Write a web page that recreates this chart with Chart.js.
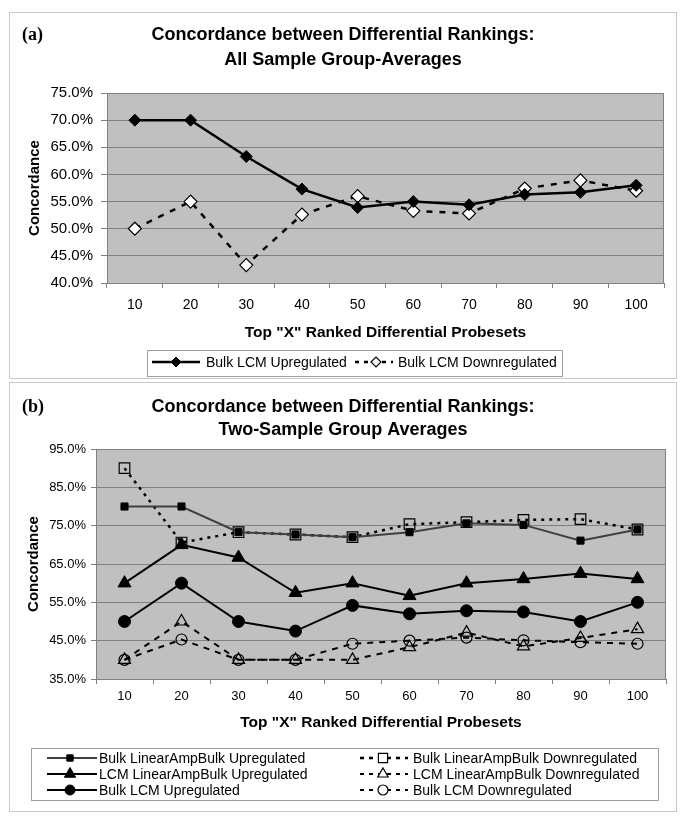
<!DOCTYPE html>
<html>
<head>
<meta charset="utf-8">
<script src="https://cdn.jsdelivr.net/npm/chart.js@4.4.1/dist/chart.umd.min.js"></script>
<style>
  body { margin: 0; background: #fff; }
  .panel { position: absolute; left: 9px; width: 668px; border: 1px solid #c8c8c8; box-sizing: border-box; }
  #panelA { top: 12px; height: 367px; }
  #panelB { top: 382px; height: 430px; }
  canvas { display: block; }
</style>
</head>
<body>
<div class="panel" id="panelA"><canvas id="chartA" width="666" height="365"></canvas></div>
<div class="panel" id="panelB"><canvas id="chartB" width="666" height="428"></canvas></div>
<script>
const categories = ["10", "20", "30", "40", "50", "60", "70", "80", "90", "100"];

// (a) all sample group-averages, concordance in %
const allBulkLcmUp = [70.0, 70.0, 63.3, 57.3, 53.9, 55.0, 54.4, 56.3, 56.7, 58.0];
const allBulkLcmDown = [50.0, 55.0, 43.3, 52.6, 56.0, 53.3, 52.8, 57.4, 58.9, 57.0];

// (b) two-sample group averages, concordance in %
const bulkLinAmpUp = [80.0, 80.0, 73.3, 72.7, 72.0, 73.3, 75.6, 75.2, 71.1, 74.0];
const bulkLinAmpDown = [90.0, 70.6, 73.3, 72.7, 72.0, 75.4, 75.9, 76.5, 76.7, 74.0];
const lcmLinAmpUp = [60.0, 70.0, 66.7, 57.5, 60.0, 56.7, 60.0, 61.1, 62.5, 61.1];
const lcmLinAmpDown = [40.0, 50.0, 40.0, 40.0, 40.0, 43.3, 47.1, 43.5, 45.7, 48.0];
const bulkLcmUp = [50.0, 60.0, 50.0, 47.5, 54.2, 52.0, 52.8, 52.5, 50.0, 55.0];
const bulkLcmDown = [40.0, 45.3, 40.0, 40.0, 44.2, 45.0, 45.8, 45.1, 44.6, 44.2];

const sans = '"Liberation Sans", Arial, sans-serif';
const serif = '"Liberation Serif", "Times New Roman", serif';

function drawMarker(ctx, style, x, y, r) {
  ctx.beginPath();
  if (style === "rectRot") {
    ctx.moveTo(x - r, y);
    ctx.lineTo(x, y - r);
    ctx.lineTo(x + r, y);
    ctx.lineTo(x, y + r);
  } else if (style === "rect") {
    const s = r * Math.SQRT1_2;
    ctx.rect(x - s, y - s, 2 * s, 2 * s);
  } else if (style === "triangle") {
    ctx.moveTo(x, y - r);
    ctx.lineTo(x + r * 0.866, y + r / 2);
    ctx.lineTo(x - r * 0.866, y + r / 2);
  } else {
    ctx.arc(x, y, r, 0, Math.PI * 2);
  }
  ctx.closePath();
  ctx.fill();
  ctx.stroke();
}

const plotFrame = {
  id: "plotFrame",
  beforeDraw(chart) {
    const { ctx, chartArea: a } = chart;
    ctx.save();
    ctx.fillStyle = "#c0c0c0";
    ctx.fillRect(a.left, a.top, a.right - a.left, a.bottom - a.top);
    ctx.restore();
  },
  beforeDatasetsDraw(chart) {
    const { ctx, chartArea: a } = chart;
    ctx.save();
    ctx.strokeStyle = "#808080";
    ctx.lineWidth = 1;
    ctx.strokeRect(Math.round(a.left) + 0.5, Math.round(a.top) + 0.5, Math.round(a.right - a.left) - 1, Math.round(a.bottom - a.top));
    ctx.restore();
  }
};

function panelText(cfg) {
  return {
    id: "panelText",
    afterDraw(chart) {
      const ctx = chart.ctx;
      ctx.save();
      ctx.fillStyle = "#000";
      ctx.textBaseline = "middle";
      ctx.textAlign = "left";
      ctx.font = "bold 18px " + serif;
      ctx.fillText(cfg.letter, 12, cfg.titleY[0]);
      ctx.font = "bold 18px " + sans;
      ctx.textAlign = "center";
      cfg.title.forEach((t, i) => ctx.fillText(t, cfg.titleX, cfg.titleY[i]));

      const b = cfg.box;
      ctx.strokeStyle = "#a0a0a0";
      ctx.lineWidth = 1;
      ctx.strokeRect(b.x + 0.5, b.y + 0.5, b.w, b.h);

      ctx.font = "14px " + sans;
      ctx.textAlign = "left";
      chart.data.datasets.forEach(ds => {
        const col = cfg.cols[ds.legendCol];
        const y = cfg.rows[ds.legendRow];
        ctx.strokeStyle = ds.borderColor;
        ctx.lineWidth = ds.borderWidth;
        ctx.setLineDash(ds.borderDash ? [4, 5] : []);
        ctx.beginPath();
        ctx.moveTo(col.x0, y);
        ctx.lineTo(col.x1, y);
        ctx.stroke();
        ctx.setLineDash([]);
        ctx.fillStyle = ds.legendFill;
        ctx.strokeStyle = "#000";
        ctx.lineWidth = ds.pointBorderWidth;
        drawMarker(ctx, ds.pointStyle, col.m, y, ds.legendRadius);
        ctx.fillStyle = "#000";
        ctx.fillText(ds.label, col.tx, y + 1);
      });
      ctx.restore();
    }
  };
}

function series(label, data, o) {
  return Object.assign({
    label: label,
    data: data,
    borderColor: "#000",
    borderWidth: 2,
    pointBorderColor: "#000",
    pointBorderWidth: 1,
    tension: 0,
    fill: false
  }, o);
}

function makeChart(id, datasets, cfg) {
  return new Chart(document.getElementById(id), {
    type: "line",
    data: { labels: categories, datasets: datasets },
    options: {
      responsive: false,
      animation: false,
      events: [],
      layout: { padding: { left: 0, right: cfg.padRight, top: cfg.padTop, bottom: cfg.padBottom } },
      plugins: { legend: { display: false }, tooltip: { enabled: false } },
      scales: {
        x: {
          offset: true,
          grid: { offset: true, drawOnChartArea: false, tickLength: 5, color: "#808080" },
          border: { color: "#808080" },
          ticks: { color: "#000", font: { size: cfg.xTickSize, family: sans }, padding: cfg.xTickPad, maxRotation: 0, autoSkip: false },
          title: {
            display: true,
            text: 'Top "X" Ranked Differential Probesets',
            color: "#000",
            font: { size: 15.5, weight: "bold", family: sans },
            padding: { top: 0, bottom: cfg.xTitlePad }
          },
          afterFit: s => { s.height = cfg.xHeight; }
        },
        y: {
          min: cfg.yMin,
          max: cfg.yMax,
          grid: { color: "#808080", tickLength: cfg.yTickLen },
          border: { color: "#808080" },
          ticks: {
            stepSize: cfg.yStep,
            color: "#000",
            font: { size: cfg.yTickSize, family: sans },
            padding: cfg.yTickPad,
            callback: v => v.toFixed(1) + "%"
          },
          title: {
            display: true,
            text: "Concordance",
            color: "#000",
            font: { size: 15, weight: "bold", family: sans },
            padding: { top: cfg.yTitlePad, bottom: 0 }
          },
          afterFit: s => { s.width = cfg.yWidth; }
        }
      }
    },
    plugins: [plotFrame, panelText(cfg.text)]
  });
}

makeChart("chartA", [
  series("Bulk LCM Upregulated", allBulkLcmUp, {
    borderWidth: 2.5, pointStyle: "rectRot", pointRadius: 6, pointBackgroundColor: "#000",
    legendCol: 0, legendRow: 0, legendRadius: 5, legendFill: "#000"
  }),
  series("Bulk LCM Downregulated", allBulkLcmDown, {
    borderWidth: 2.5, borderDash: [6, 7], pointStyle: "rectRot", pointRadius: 6.5, pointBackgroundColor: "#fff",
    pointBorderWidth: 1.2, legendCol: 1, legendRow: 0, legendRadius: 5, legendFill: "#fff"
  })
], {
  padRight: 12, padTop: 80, padBottom: 33,
  xHeight: 62, xTickSize: 14, xTickPad: 9, xTitlePad: 3,
  yWidth: 97, yTickLen: 6, yTickPad: 8, yTickSize: 15, yTitlePad: 16,
  yMin: 40, yMax: 75, yStep: 5,
  text: {
    letter: "(a)",
    title: ["Concordance between Differential Rankings:", "All Sample Group-Averages"],
    titleX: 333, titleY: [22, 47],
    box: { x: 137, y: 337, w: 415, h: 26 },
    rows: [349],
    cols: [{ x0: 142, x1: 190, m: 166, tx: 196 }, { x0: 345, x1: 383, m: 366, tx: 388 }]
  }
});

makeChart("chartB", [
  series("Bulk LinearAmpBulk Upregulated", bulkLinAmpUp, {
    borderColor: "#404040", pointStyle: "rect", pointRadius: 5, pointBackgroundColor: "#000",
    legendCol: 0, legendRow: 0, legendRadius: 4.5, legendFill: "#000"
  }),
  series("Bulk LinearAmpBulk Downregulated", bulkLinAmpDown, {
    borderWidth: 2.5, borderDash: [3, 5], pointStyle: "rect", pointRadius: 7.5, pointBackgroundColor: "rgba(0,0,0,0)",
    pointBorderWidth: 1.2, legendCol: 1, legendRow: 0, legendRadius: 6.5, legendFill: "#fff"
  }),
  series("LCM LinearAmpBulk Upregulated", lcmLinAmpUp, {
    pointStyle: "triangle", pointRadius: 7.5, pointBackgroundColor: "#000",
    legendCol: 0, legendRow: 1, legendRadius: 6.5, legendFill: "#000"
  }),
  series("LCM LinearAmpBulk Downregulated", lcmLinAmpDown, {
    borderDash: [6, 6], pointStyle: "triangle", pointRadius: 7, pointBackgroundColor: "rgba(0,0,0,0)",
    pointBorderWidth: 1.2, legendCol: 1, legendRow: 1, legendRadius: 6, legendFill: "#fff"
  }),
  series("Bulk LCM Upregulated", bulkLcmUp, {
    pointStyle: "circle", pointRadius: 6, pointBackgroundColor: "#000",
    legendCol: 0, legendRow: 2, legendRadius: 5, legendFill: "#000"
  }),
  series("Bulk LCM Downregulated", bulkLcmDown, {
    borderDash: [6, 6], pointStyle: "circle", pointRadius: 5.5, pointBackgroundColor: "rgba(0,0,0,0)",
    pointBorderWidth: 1.2, legendCol: 1, legendRow: 2, legendRadius: 5, legendFill: "#fff"
  })
], {
  padRight: 10, padTop: 66, padBottom: 78,
  xHeight: 54, xTickSize: 13, xTickPad: 5, xTitlePad: 1,
  yWidth: 86, yTickLen: 5, yTickPad: 5, yTickSize: 13, yTitlePad: 15,
  yMin: 35, yMax: 95, yStep: 10,
  text: {
    letter: "(b)",
    title: ["Concordance between Differential Rankings:", "Two-Sample Group Averages"],
    titleX: 333, titleY: [24, 47],
    box: { x: 21, y: 365, w: 627, h: 52 },
    rows: [375, 391, 407],
    cols: [{ x0: 37, x1: 87, m: 60, tx: 89 }, { x0: 350, x1: 398, m: 373, tx: 403 }]
  }
});
</script>
</body>
</html>
